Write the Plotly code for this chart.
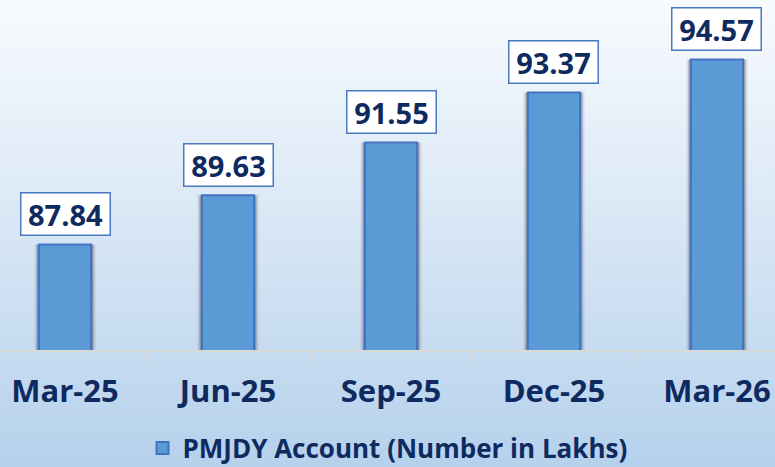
import base64
import plotly.graph_objects as go

categories = ["Mar-25", "Jun-25", "Sep-25", "Dec-25", "Mar-26"]
accounts = [87.84, 89.63, 91.55, 93.37, 94.57]
series_name = "PMJDY Account (Number in Lakhs)"
value_labels = [f"{v:.2f}" for v in accounts]

NAVY = "#0f2a5f"
FONT = "Open Sans"
W, H = 775, 467
T, B = 0, 117
plot_h = H - T - B

svg = ('<svg xmlns="http://www.w3.org/2000/svg" viewBox="0 0 10 100" width="10" height="100" '
       'preserveAspectRatio="none"><defs><linearGradient id="g" x1="0" y1="0" x2="0" y2="1">'
       '<stop offset="0" stop-color="#f8fbfe"/><stop offset="0.5" stop-color="#d7e6f5"/>'
       '<stop offset="1" stop-color="#b5d1ec"/></linearGradient></defs>'
       '<rect width="10" height="100" fill="url(#g)"/></svg>')
bg_uri = "data:image/svg+xml;base64," + base64.b64encode(svg.encode()).decode()

fig = go.Figure()
# soft shadow behind bars
for w, a in [(0.375, 0.10), (0.355, 0.18), (0.34, 0.25)]:
    fig.add_trace(go.Bar(
        x=categories, y=accounts, width=w, showlegend=False, hoverinfo="skip",
        marker=dict(color=f"rgba(40,40,40,{a})", line=dict(width=0)),
    ))
fig.add_trace(go.Bar(
    x=categories, y=accounts, name=series_name, width=0.32,
    marker=dict(color="#5b9bd5", line=dict(color="#4472c4", width=2)),
    showlegend=True,
))

for c, v, t in zip(categories, accounts, value_labels):
    fig.add_annotation(
        x=c, y=v, text=t, showarrow=False, yanchor="bottom", yshift=8,
        bgcolor="white", bordercolor="#4a78c2", borderwidth=1.5,
        width=88, height=41, borderpad=0,
        font=dict(family=FONT, size=29, color=NAVY, weight="bold"),
    )

fig.update_layout(
    width=W, height=H,
    barmode="overlay",
    margin=dict(l=0, r=0, t=T, b=B),
    paper_bgcolor="#d7e6f5", plot_bgcolor="rgba(0,0,0,0)",
    images=[dict(source=bg_uri, xref="paper", yref="paper", x=0, y=1,
                 sizex=1, sizey=H / plot_h, xanchor="left", yanchor="top",
                 sizing="stretch", layer="below")],
    xaxis=dict(range=[-0.399, 4.356], showgrid=False, zeroline=False, automargin=False,
               showline=True, linecolor="#d9d9d9", linewidth=2,
               ticks="outside", tickson="boundaries", ticklen=10, tickcolor="#d9d9d9",
               tickwidth=1.5, ticklabelstandoff=13,
               tickfont=dict(family=FONT, size=31, color=NAVY, weight="bold")),
    yaxis=dict(range=[84, 96.73], showgrid=False, zeroline=False, automargin=False,
               showticklabels=False, showline=False),
    showlegend=True,
    legend=dict(orientation="h", x=0.5, xanchor="center", yref="container",
                y=1 - 448 / H, yanchor="middle", bgcolor="rgba(0,0,0,0)",
                borderwidth=0, itemwidth=30,
                font=dict(family=FONT, size=26, color=NAVY, weight="bold")),
)

fig.write_html("out.html", config={"displayModeBar": False},
               post_script="document.body.style.margin='0';document.body.style.overflow='hidden';")
